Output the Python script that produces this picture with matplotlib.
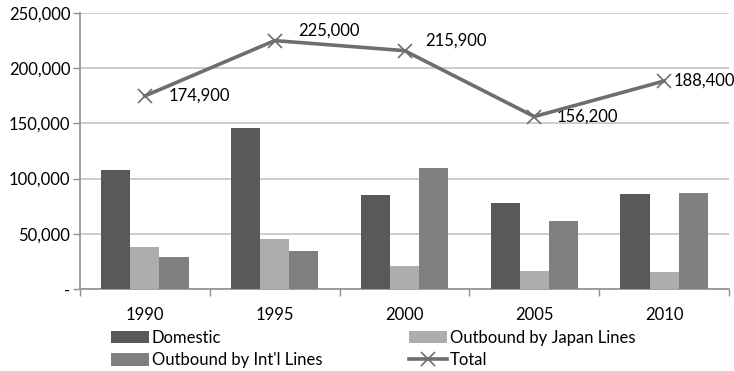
import numpy as np
import matplotlib.pyplot as plt
from matplotlib.ticker import FuncFormatter, FixedLocator

years = ["1990", "1995", "2000", "2005", "2010"]
domestic = [108000, 145500, 85500, 78200, 86200]
japan_lines = [38000, 45000, 21000, 16500, 15200]
intl_lines = [28900, 34500, 109400, 61500, 87000]
total = [174900, 225000, 215900, 156200, 188400]

# label offsets (pixels) for the total line, Excel-style "right" placement
label_offsets = [(24, 0), (23, 10), (21, 10), (22, 0), (9, 0)]

plt.rcParams['font.family'] = ['Lato', 'DejaVu Sans']
plt.rcParams['font.size'] = 12

fig = plt.figure(figsize=(7.34, 3.71), dpi=100)
ax = fig.add_axes([80 / 734, 1 - 289 / 371, 649 / 734, 276 / 371])

x = np.arange(len(years))
w = 0.224
ax.bar(x - w, domestic, w, color="#595959", label="Domestic", zorder=3)
ax.bar(x, japan_lines, w, color="#adadad", label="Outbound by Japan Lines", zorder=3)
ax.bar(x + w, intl_lines, w, color="#808080", label="Outbound by Int'l Lines", zorder=3)
ax.plot(x, total, color="#6e6e6e", lw=2.6, marker="x", markersize=10,
        markeredgewidth=1.2, label="Total", zorder=4)

for xi, v, off in zip(x, total, label_offsets):
    ax.annotate(f"{v:,}", (xi, v), xytext=off, textcoords="offset pixels",
                ha="left", va="center", fontsize=12, color="#000000")

ax.set_xlim(-0.5, len(years) - 0.5)
ax.set_ylim(0, 250000)
ax.set_yticks(np.arange(0, 250001, 50000))
ax.yaxis.set_major_formatter(FuncFormatter(lambda v, p: "-" if v == 0 else f"{int(v):,}"))
ax.yaxis.grid(True, color="#bfbfbf", lw=1.1, zorder=0)

# category ticks sit on the boundaries, labels in the middle
ax.xaxis.set_major_locator(FixedLocator(np.arange(-0.5, len(years), 1.0)))
ax.xaxis.set_major_formatter(FuncFormatter(lambda v, p: ""))
ax.xaxis.set_minor_locator(FixedLocator(x))
ax.set_xticklabels(years, minor=True)
ax.tick_params(axis="x", which="minor", length=0, pad=13, labelsize=12)
ax.tick_params(axis="x", which="major", length=5, color="#909090", width=1)
ax.tick_params(axis="y", length=5, color="#909090", width=1, pad=2, labelsize=12)

for s in ["top", "right"]:
    ax.spines[s].set_visible(False)
for s in ["left", "bottom"]:
    ax.spines[s].set_color("#909090")
    ax.spines[s].set_linewidth(1.2)

h, l = ax.get_legend_handles_labels()
order = [1, 3, 2, 0]
fig.legend([h[i] for i in order], [l[i] for i in order], ncol=2,
           loc="upper left", bbox_to_anchor=(104 / 734, 1 - 323 / 371),
           frameon=False, handlelength=2.3, handleheight=0.8, handletextpad=0.15,
           columnspacing=5.2, labelspacing=0.4, fontsize=12, borderaxespad=0)

fig.savefig("out.png", dpi=100)
